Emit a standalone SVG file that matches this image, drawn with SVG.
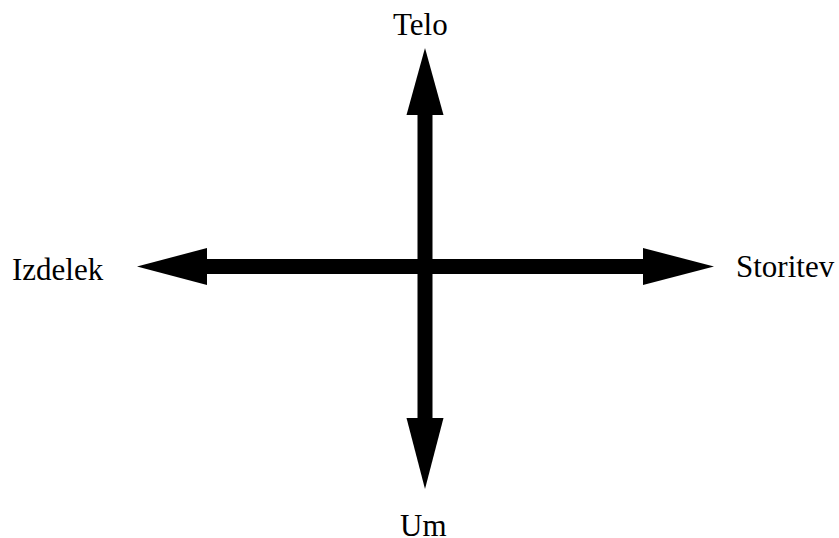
<svg xmlns="http://www.w3.org/2000/svg" width="839" height="538" viewBox="0 0 839 538">
<style>
.lbl{font-family:"Liberation Serif","Times New Roman",serif;font-size:31px;fill:#000}
.ax{fill:#000;stroke:none}
</style>
<rect width="839" height="538" fill="#fff"/>
<g id="connectors">
<rect class="ax" x="207" y="259" width="436" height="15"/>
<rect class="ax" x="417.5" y="114" width="15" height="305"/>
<polygon class="ax" points="425,48 443.5,115 406.5,115"/>
<polygon class="ax" points="425,489 443.5,418 406.5,418"/>
<polygon class="ax" points="137,266.5 207,248 207,285"/>
<polygon class="ax" points="714,266.5 643,248 643,285"/>
</g>
<g id="telo"><text class="lbl" x="393" y="35">Telo</text></g>
<g id="izdelek"><text class="lbl" x="12" y="280">Izdelek</text></g>
<g id="storitev"><text class="lbl" x="736" y="277">Storitev</text></g>
<g id="um"><text class="lbl" x="400" y="536">Um</text></g>
</svg>
